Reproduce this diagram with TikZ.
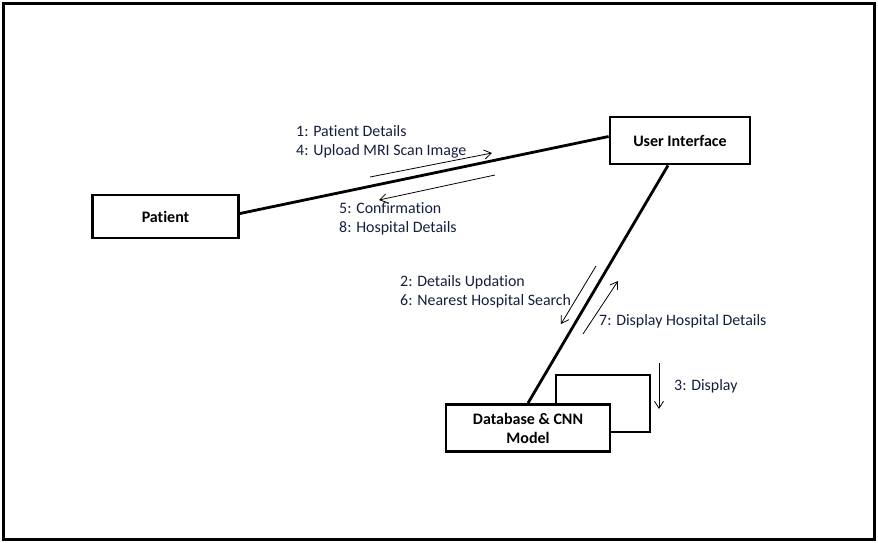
\documentclass[tikz,border=0pt]{standalone}
\usepackage{fontspec}
\setmainfont{Carlito}[Ligatures=NoCommon]
\usetikzlibrary{arrows.meta,calc}
\definecolor{msgtext}{RGB}{22,30,62}
\begin{document}
\begin{tikzpicture}[x=1pt,y=-1pt,
  objbox/.style={draw=black,line width=2.8pt,fill=white,inner sep=0pt,font=\bfseries\fontsize{16}{19}\selectfont,align=center},
  link/.style={line width=2.8pt},
  msg/.style={line width=0.8pt,-{Straight Barb[length=7pt,width=9pt,line width=0.8pt]}},
  msglabel/.style={anchor=west,inner sep=0pt,text=msgtext,font=\fontsize{15.9}{19}\selectfont,align=left}]
\useasboundingbox (0,0) rectangle (878,542);
\draw[line width=3pt] (3,3) rectangle (874.5,539);
% nodes
\node[objbox,minimum width=146pt,minimum height=43pt] (pat) at (165.5,216.5) {Patient};
\node[objbox,minimum width=140pt,minimum height=47pt] (ui) at (680,140.5) {User Interface};
\node[draw=black,line width=2.8pt,minimum width=94pt,minimum height=57pt,inner sep=0pt] (loop) at (603,403.5) {};
\node[objbox,minimum width=164pt,minimum height=47pt] (db) at (528,428) {Database \& CNN\\Model};
% links
\draw[link] ($(pat.east)+(0,-3)$) -- ($(ui.west)+(0,-4)$);
\draw[link] ($(ui.south)+(-12,0)$) -- (db.north);
% message arrows
\coordinate (m1s) at (370,177); \coordinate (m1e) at (492,153);
\coordinate (m2s) at (495,175); \coordinate (m2e) at (379,200);
\coordinate (m3s) at (596,266); \coordinate (m3e) at (561,324);
\coordinate (m4s) at (583,334); \coordinate (m4e) at (618,281);
\coordinate (m5s) at (659,363); \coordinate (m5e) at (659,409);
\draw[msg] (m1s) -- (m1e);
\draw[msg] (m2s) -- (m2e);
\draw[msg] (m3s) -- (m3e);
\draw[msg] (m4s) -- (m4e);
\draw[msg] (m5s) -- (m5e);
% labels
\node[msglabel] (l1) at (296,141.5) {1: Patient Details\\4: Upload MRI Scan Image};
\node[msglabel] (l2) at (339,218.5) {5: Confirmation\\8: Hospital Details};
\node[msglabel] (l3) at (400,291.5) {2: Details Updation\\6: Nearest Hospital Search};
\node[msglabel] (l4) at (599,321) {7: Display Hospital Details};
\node[msglabel] (l5) at (674,386) {3: Display};
\end{tikzpicture}
\end{document}
